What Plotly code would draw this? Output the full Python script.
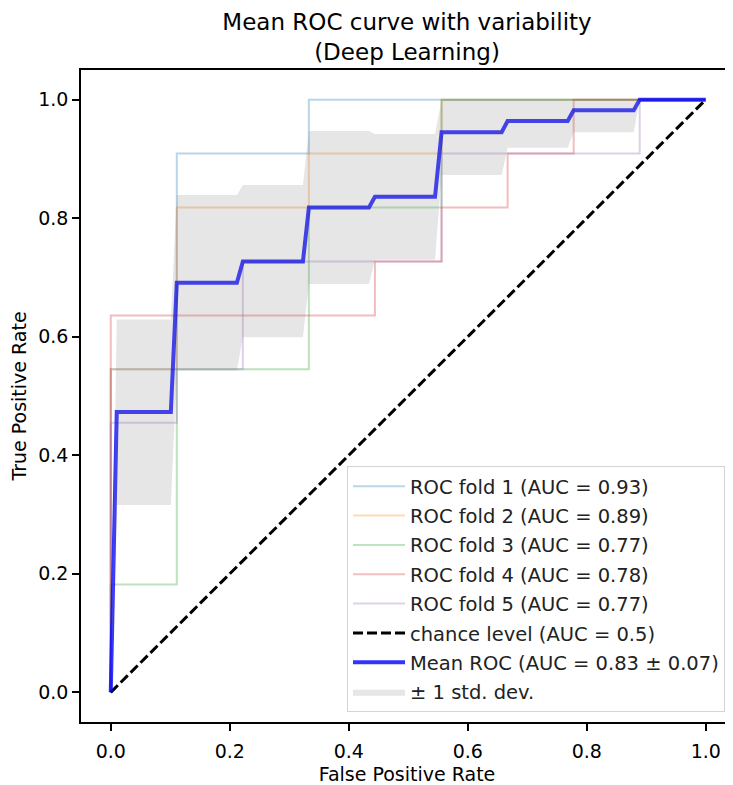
import plotly.graph_objects as go

# ---------------- data ----------------
fold1_fpr = [0, 0, 0.111, 0.111, 0.333, 0.333, 1.0]
fold1_tpr = [0, 0.545, 0.545, 0.909, 0.909, 1.0, 1.0]

fold2_fpr = [0, 0, 0.111, 0.111, 0.333, 0.333, 0.556, 0.556, 1.0]
fold2_tpr = [0, 0.545, 0.545, 0.818, 0.818, 0.909, 0.909, 1.0, 1.0]

fold3_fpr = [0, 0, 0.111, 0.111, 0.333, 0.333, 0.556, 0.556, 1.0]
fold3_tpr = [0, 0.182, 0.182, 0.545, 0.545, 0.818, 0.818, 1.0, 1.0]

fold4_fpr = [0, 0, 0.444, 0.444, 0.556, 0.556, 0.667, 0.667, 0.778, 0.778, 1.0]
fold4_tpr = [0, 0.636, 0.636, 0.727, 0.727, 0.818, 0.818, 0.909, 0.909, 1.0, 1.0]

fold5_fpr = [0, 0, 0.111, 0.111, 0.222, 0.222, 0.556, 0.556, 0.889, 0.889, 1.0]
fold5_tpr = [0, 0.455, 0.455, 0.545, 0.545, 0.727, 0.727, 0.909, 0.909, 1.0, 1.0]

fold_labels = ["ROC fold 1 (AUC = 0.93)", "ROC fold 2 (AUC = 0.89)",
               "ROC fold 3 (AUC = 0.77)", "ROC fold 4 (AUC = 0.78)",
               "ROC fold 5 (AUC = 0.77)"]

chance_x = [0, 1]
chance_y = [0, 1]
chance_label = "chance level (AUC = 0.5)"

mean_fpr = [0, 0.0101, 0.101, 0.111, 0.212, 0.222, 0.323, 0.333, 0.434, 0.444,
            0.545, 0.556, 0.657, 0.667, 0.768, 0.778, 0.879, 0.889, 1.0]
mean_tpr = [0, 0.473, 0.473, 0.691, 0.691, 0.727, 0.727, 0.818, 0.818, 0.836,
            0.836, 0.945, 0.945, 0.964, 0.964, 0.982, 0.982, 1.0, 1.0]
tpr_upper = [0, 0.629, 0.629, 0.839, 0.839, 0.856, 0.856, 0.947, 0.947, 0.942,
             0.942, 1.0, 1.0, 1.0, 1.0, 1.0, 1.0, 1.0, 1.0]
tpr_lower = [0, 0.316, 0.316, 0.543, 0.543, 0.599, 0.599, 0.689, 0.689, 0.730,
             0.730, 0.873, 0.873, 0.919, 0.919, 0.945, 0.945, 1.0, 1.0]
mean_label = "Mean ROC (AUC = 0.83 ± 0.07)"
band_label = "± 1 std. dev."

title_text = "Mean ROC curve with variability<br>(Deep Learning)"

tick_vals = [0.0, 0.2, 0.4, 0.6, 0.8, 1.0]
tick_text = ["0.0", "0.2", "0.4", "0.6", "0.8", "1.0"]

# ---------------- styles ----------------
fold_colors = ["#1f77b4", "#ff7f0e", "#2ca02c", "#d62728", "#9467bd"]
FONT = "DejaVu Sans"

# the page body adds an 8px offset; figure is sized to fill the remaining window
W, H = 725, 777
L, T, B = 73, 62, 63
PW = W - L           # plot width (right margin 0)
PH = H - T - B

fig = go.Figure()

folds = [(fold1_fpr, fold1_tpr), (fold2_fpr, fold2_tpr), (fold3_fpr, fold3_tpr),
         (fold4_fpr, fold4_tpr), (fold5_fpr, fold5_tpr)]
for i, ((fx, fy), lab, col) in enumerate(zip(folds, fold_labels, fold_colors)):
    fig.add_trace(go.Scatter(x=fx, y=fy, mode="lines", name=lab,
                             line=dict(color=col, width=2), opacity=0.3,
                             legendgroup=f"g{i}", legendrank=i + 1))

fig.add_trace(go.Scatter(x=chance_x, y=chance_y, mode="lines", name=chance_label,
                         line=dict(color="black", width=3, dash="10px,4px"),
                         legendgroup="g5", legendrank=6))

fig.add_trace(go.Scatter(x=mean_fpr, y=mean_tpr, mode="lines", name=mean_label,
                         line=dict(color="blue", width=4), opacity=0.8,
                         legendgroup="g6", legendrank=7))

band_x = mean_fpr + mean_fpr[::-1]
band_y = tpr_upper + tpr_lower[::-1]
fig.add_trace(go.Scatter(x=band_x, y=band_y, mode="lines", fill="toself",
                         fillcolor="rgba(128,128,128,0.2)",
                         line=dict(width=0, color="rgba(0,0,0,0)"),
                         name=band_label, legendgroup="g7", legendrank=8))

axis_common = dict(
    showline=True, linecolor="black", linewidth=1.5,
    ticks="outside", ticklen=7, tickwidth=1.5, tickcolor="black",
    showgrid=False, zeroline=False, automargin=False,
    tickvals=tick_vals, ticktext=tick_text,
    tickfont=dict(family=FONT, size=19, color="black"),
)

fig.update_xaxes(range=[-0.05, 1.0458], mirror=True, ticklabelstandoff=4,
                 title=dict(text="False Positive Rate",
                            font=dict(family=FONT, size=19, color="black"),
                            standoff=10),
                 **axis_common)
fig.update_yaxes(range=[-0.05, 1.05], mirror=False,
                 title=dict(text="True Positive Rate",
                            font=dict(family=FONT, size=19, color="black"),
                            standoff=10),
                 **axis_common)

fig.update_layout(
    width=W, height=H,
    margin=dict(l=L, r=0, t=T, b=B, autoexpand=False),
    paper_bgcolor="white", plot_bgcolor="white",
    font=dict(family=FONT, size=19, color="black"),
    title=dict(text=title_text,
               x=(L + W) / 2 / W, xanchor="center",
               y=1 - 22 / H, yanchor="top",
               font=dict(family=FONT, size=23, color="black")),
    legend=dict(x=(717 - L) / PW, xanchor="right",
                y=10 / PH, yanchor="bottom",
                bgcolor="rgba(255,255,255,0.8)", bordercolor="#d5d5d5",
                borderwidth=1, tracegroupgap=1, traceorder="grouped",
                itemwidth=52,
                font=dict(family=FONT, size=19.5, color="#222222")),
    showlegend=True,
)

fig.write_html("out.html")
